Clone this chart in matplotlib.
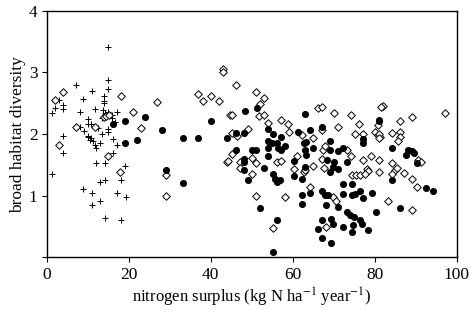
import matplotlib
matplotlib.use("Agg")
import matplotlib.pyplot as plt

# --- data ---
plus_x = [1.2, 1.2, 2.0, 3.1, 4.05, 4.05, 4.05, 4.05, 7.15, 8.0, 8.0, 8.9, 8.9, 10.1, 10.1, 10.1,
          10.0, 10.7, 10.6, 10.9, 11.0, 11.0, 11.0, 11.4, 11.8, 11.8, 11.9, 11.9, 13.0, 13.0, 13.0,
          13.6, 13.8, 14.0, 14.0, 14.0, 14.0, 14.2, 14.1, 14.1, 14.1, 14.8, 15.0, 15.0, 15.0, 15.0,
          15.0, 15.0, 15.9, 15.9, 16.1, 16.1, 16.7, 17.1, 17.1, 17.2, 18.1, 19.1, 19.3, 18.0, 12.5,
          13.5, 9.2]
plus_y = [2.34, 1.36, 2.42, 2.55, 2.47, 2.40, 1.97, 1.70, 2.80, 2.36, 2.12, 2.57, 1.11, 2.24, 2.16, 1.97,
          1.95, 1.93, 1.90, 2.17, 2.70, 1.05, 0.85, 1.88, 2.41, 1.82, 1.77, 1.53, 1.85, 1.23, 0.92,
          2.26, 2.39, 2.61, 2.54, 2.50, 2.28, 2.34, 1.53, 1.26, 0.64, 2.29, 3.41, 2.87, 2.73, 2.36,
          2.09, 2.04, 2.31, 2.26, 1.92, 1.69, 2.20, 2.36, 1.04, 1.82, 1.25, 1.48, 0.98, 0.61, 2.10,
          2.00, 2.05]

diam_x = [2.0, 4.05, 3.0, 7.15, 11.8, 14.0, 14.5, 15.3, 15.0, 18.0, 17.9, 21.1, 22.9, 27.0, 29.0, 29.0,
          43.0, 43.0, 37.0, 38.0, 40.1, 42.0, 44.0, 44.7,
          46.2, 51.0, 53.1, 52.0, 45.1, 51.9, 53.1, 54.0, 57.1, 58.9, 59.1, 62.2, 45.1, 46.3, 49.0,
          56.1, 57.1, 61.1, 60.2, 62.8, 45.1, 44.1, 47.1, 50.0, 51.0, 47.1, 50.0, 51.0, 58.1, 55.1,
          66.1, 67.1, 70.1, 74.1, 76.2, 71.1, 67.1, 65.0, 75.2, 77.2, 80.1, 80.8, 81.3, 67.3, 67.9,
          73.2, 74.1, 65.0, 67.1, 67.7, 77.2, 79.0, 78.0, 78.4, 63.0,
          64.2, 69.9, 70.6, 74.4, 75.4, 76.5, 77.6, 68.0,
          82.1, 97.1, 89.2, 86.2, 80.9, 81.0, 81.0, 84.1, 86.2, 86.2, 85.6, 90.6, 91.3, 81.0, 84.3,
          81.0, 84.9, 85.4, 84.3, 87.2, 89.2, 90.2, 83.2, 89.2, 81.5]
diam_y = [2.55, 2.69, 1.82, 2.11, 2.12, 2.27, 2.29, 2.31, 1.64, 2.61, 1.39, 2.35, 2.10, 2.52, 1.33, 1.00,
          3.05, 3.01, 2.65, 2.53, 2.62, 2.54, 1.55, 2.31,
          2.80, 2.68, 2.58, 2.49, 2.31, 2.30, 2.31, 2.18, 2.23, 2.17, 2.04, 1.99, 2.01, 1.97, 2.09,
          1.55, 1.56, 1.64, 1.43, 1.39, 1.68, 1.56, 1.54, 1.61, 1.53, 1.45, 1.35, 1.00, 0.98, 0.48,
          2.43, 2.44, 2.34, 2.31, 2.17, 2.12, 2.06, 1.93, 2.00, 2.00, 2.04, 1.98, 1.95, 1.74, 1.80,
          1.74, 1.64, 1.48, 1.59, 1.45, 1.58, 1.64, 1.43, 1.40, 1.41,
          1.15, 0.98, 0.92, 1.33, 1.34, 1.33, 1.36, 0.49,
          2.46, 2.34, 2.28, 2.22, 2.15, 2.00, 1.93, 2.01, 2.04, 1.96, 1.88, 1.58, 1.55, 1.58, 1.53,
          1.39, 1.42, 1.45, 1.36, 1.37, 1.27, 1.15, 0.92, 0.77, 2.44]

fill_x = [16.2, 19.2, 24.0, 19.2, 21.9, 28.0, 29.1, 33.2, 33.2, 37.0, 40.1, 44.0,
          46.2, 48.2, 48.4, 51.2, 54.0, 55.3, 57.1, 61.2, 62.8, 63.0, 53.9, 54.9, 56.1, 56.5, 57.1,
          58.1, 54.0, 54.0, 60.2, 60.2, 62.3, 46.2, 50.0, 51.0, 48.2, 48.2, 48.2, 53.1, 49.2, 55.3,
          55.7, 56.1, 56.9, 62.2, 62.2, 52.0, 56.1, 55.1,
          67.1, 64.2, 81.1, 63.2, 77.2, 77.2, 69.1, 65.0, 69.1, 72.2, 71.1, 63.2, 68.3, 70.1, 69.9,
          69.1, 71.1, 73.2, 63.1, 63.1,
          64.2, 67.1, 67.9, 68.7, 68.1, 71.1, 72.2, 74.4, 75.2, 76.4, 77.1, 79.3, 80.3, 72.3, 74.4,
          73.2, 74.0, 75.0, 76.4, 76.8, 74.8, 78.4, 67.1, 66.2, 69.3, 69.9, 72.2, 74.4, 67.1, 69.3,
          81.0, 84.3, 88.2, 89.0, 89.7, 87.6, 90.2, 84.3, 92.4, 94.3, 86.2]
fill_y = [2.16, 2.21, 2.27, 1.86, 1.90, 2.07, 1.41, 1.93, 1.20, 1.94, 2.21, 1.93,
          2.02, 2.02, 2.38, 2.43, 2.09, 2.00, 1.96, 2.04, 1.85, 2.33, 1.88, 1.85, 1.85, 1.78, 1.74,
          1.80, 1.77, 1.64, 1.56, 1.32, 1.27, 1.74, 1.74, 1.74, 1.59, 1.54, 1.42, 1.45, 1.25, 1.36,
          1.28, 1.22, 1.25, 1.01, 0.86, 0.80, 0.61, 0.09,
          2.11, 2.06, 2.23, 1.87, 1.92, 1.85, 1.88, 1.77, 1.74, 1.77, 1.72, 1.66, 1.58, 1.55, 1.47,
          1.39, 1.43, 1.55, 1.74, 1.47,
          1.05, 1.07, 1.01, 1.01, 0.85, 0.82, 1.03, 1.01, 1.03, 1.07, 0.96, 1.04, 0.74, 1.19, 1.19,
          0.74, 0.69, 0.66, 0.61, 0.54, 0.53, 0.45, 0.60, 0.46, 0.62, 0.55, 0.49, 0.42, 0.31, 0.24,
          2.22, 1.77, 1.74, 1.72, 1.69, 1.66, 1.53, 1.26, 1.12, 1.08, 0.80]

x_ticks = [0, 20, 40, 60, 80, 100]
y_ticks = [1, 2, 3, 4]
x_label = "nitrogen surplus (kg N ha$^{-1}$ year$^{-1}$)"
y_label = "broad habitat diversity"

plt.rcParams['font.family'] = ['Liberation Serif', 'DejaVu Serif']
plt.rcParams['mathtext.fontset'] = 'stix'

fig = plt.figure(figsize=(4.7, 3.1), dpi=100)
ax = fig.add_axes([0.0994, 0.1694, 0.8723, 0.7961])

ax.scatter(plus_x, plus_y, marker='+', s=22, c='black', linewidths=0.7, zorder=3)
ax.scatter(diam_x, diam_y, marker='D', s=15, facecolors='white', edgecolors='black',
           linewidths=0.7, zorder=4)
ax.scatter(fill_x, fill_y, marker='o', s=26, c='black', linewidths=0, zorder=5)

ax.set_xlim(0, 100)
ax.set_ylim(0, 4)
ax.set_xticks(x_ticks)
ax.set_yticks([0] + y_ticks)
ax.set_yticklabels([''] + [str(v) for v in y_ticks])
ax.tick_params(direction='out', length=3.5, width=0.8, labelsize=12.5, pad=3)
for s in ax.spines.values():
    s.set_linewidth(1.0)

ax.set_xlabel(x_label, fontsize=12, labelpad=2.5)
ax.set_ylabel(y_label, fontsize=12.5, labelpad=2)

fig.savefig("out.png", dpi=100)
